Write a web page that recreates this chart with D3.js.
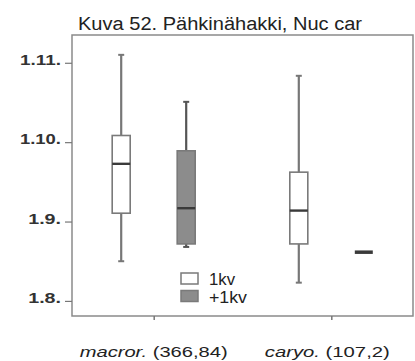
<!DOCTYPE html>
<html>
<head>
<meta charset="utf-8">
<script src="https://cdn.jsdelivr.net/npm/d3@7"></script>
<style>
  html, body { margin: 0; padding: 0; background: #fff; }
  svg { display: block; font-family: "Liberation Sans", Arial, sans-serif; }
</style>
</head>
<body>
<svg id="chart" width="415" height="361"></svg>
<script>
// Date axis: 0 = 1.8., 1 = 1.9., 2 = 1.10., 3 = 1.11. (months from 1 August)
const tickValues = [0, 1, 2, 3];
const tickLabels = ["1.8.", "1.9.", "1.10.", "1.11."];

const categories = ["macror.", "caryo."];
const categoryCounts = ["(366,84)", "(107,2)"];
const groups = ["1kv", "+1kv"];

// Box statistics per category, in the order of `groups`
const whiskerLow  = [[0.50, 0.68], [0.23, 0.614]];
const quartile1   = [[1.105, 0.718], [0.718, 0.614]];
const medians     = [[1.727, 1.168], [1.138, 0.614]];
const quartile3   = [[2.084, 1.891], [1.622, 0.614]];
const whiskerHigh = [[3.10, 2.508], [2.836, 0.614]];

const svg = d3.select("#chart");
const frame = { left: 72, right: 413, top: 35, bottom: 316 };

const y = d3.scaleLinear().domain([-0.19, 3.35]).range([frame.bottom, frame.top]);
const x = d3.scalePoint().domain(categories).range([frame.left, frame.right]).padding(0.46);
const sub = d3.scalePoint().domain(groups).range([-32.5, 32.5]);
const boxW = 18;

const fills = { "1kv": "#ffffff", "+1kv": "#8c8c8c" };
const whiskerColor = { "1kv": "#777777", "+1kv": "#555555" };

// Title
svg.append("text")
  .attr("x", 78).attr("y", 30)
  .attr("font-size", 18)
  .attr("fill", "#222")
  .attr("textLength", 284)
  .attr("lengthAdjust", "spacingAndGlyphs")
  .text("Kuva 52. Pähkinähakki, Nuc car");

// Plot frame
svg.append("rect")
  .attr("x", frame.left).attr("y", frame.top)
  .attr("width", frame.right - frame.left)
  .attr("height", frame.bottom - frame.top)
  .attr("fill", "none")
  .attr("stroke", "#8a8a8a")
  .attr("stroke-width", 1.5);

// Y axis
const yAxis = d3.axisLeft(y)
  .tickValues(tickValues)
  .tickFormat((d, i) => tickLabels[i])
  .tickSize(7)
  .tickPadding(4);
const yg = svg.append("g").attr("transform", `translate(${frame.left},0)`).call(yAxis);
yg.select(".domain").remove();
yg.selectAll(".tick line").attr("stroke", "#777").attr("stroke-width", 1.2);
yg.selectAll(".tick text")
  .attr("font-size", 15)
  .attr("font-weight", "bold")
  .attr("fill", "#333")
  .attr("dy", "0.1em")
  .attr("font-family", "'Liberation Sans', Arial, sans-serif")
  .each(function() {
    const t = d3.select(this);
    t.attr("textLength", t.text().length * 8.2)
     .attr("lengthAdjust", "spacingAndGlyphs");
  });

// X axis
const xAxis = d3.axisBottom(x).tickSize(4).tickFormat("");
const xg = svg.append("g").attr("transform", `translate(0,${frame.bottom})`).call(xAxis);
xg.select(".domain").remove();
xg.selectAll(".tick line").attr("stroke", "#777").attr("stroke-width", 1.5);

// Category labels
const labelWidths = [148, 125];
categories.forEach((c, i) => {
  const t = svg.append("text")
    .attr("x", x(c) + (i === 0 ? 0 : -4))
    .attr("y", 357)
    .attr("text-anchor", "middle")
    .attr("font-size", 15)
    .attr("fill", "#222")
    .attr("textLength", labelWidths[i])
    .attr("lengthAdjust", "spacingAndGlyphs");
  t.append("tspan").attr("font-style", "italic").text(c);
  t.append("tspan").text(" " + categoryCounts[i]);
});

// Boxes
categories.forEach((c, ci) => {
  groups.forEach((g, gi) => {
    const cx = x(c) + sub(g);
    const gEl = svg.append("g");
    const lo = whiskerLow[ci][gi], q1 = quartile1[ci][gi], md = medians[ci][gi],
          q3 = quartile3[ci][gi], hi = whiskerHigh[ci][gi];
    const wc = whiskerColor[g];
    if (hi > q3) {
      gEl.append("line").attr("x1", cx).attr("x2", cx).attr("y1", y(hi)).attr("y2", y(q3))
        .attr("stroke", wc).attr("stroke-width", 2.2);
      gEl.append("line").attr("x1", cx - 3).attr("x2", cx + 3).attr("y1", y(hi)).attr("y2", y(hi))
        .attr("stroke", wc).attr("stroke-width", 2);
    }
    if (lo < q1) {
      gEl.append("line").attr("x1", cx).attr("x2", cx).attr("y1", y(q1)).attr("y2", y(lo))
        .attr("stroke", wc).attr("stroke-width", 2.2);
      gEl.append("line").attr("x1", cx - 3).attr("x2", cx + 3).attr("y1", y(lo)).attr("y2", y(lo))
        .attr("stroke", wc).attr("stroke-width", 2);
    }
    if (q3 > q1) {
      gEl.append("rect")
        .attr("x", cx - boxW / 2).attr("y", y(q3))
        .attr("width", boxW).attr("height", y(q1) - y(q3))
        .attr("fill", fills[g])
        .attr("stroke", "#7a7a7a").attr("stroke-width", 1.6);
    }
    gEl.append("line")
      .attr("x1", cx - boxW / 2).attr("x2", cx + boxW / 2)
      .attr("y1", y(md)).attr("y2", y(md))
      .attr("stroke", "#3a3a3a")
      .attr("stroke-width", q3 > q1 ? 2.4 : 3.5);
  });
});

// Legend
const legend = svg.append("g");
const legendWidths = [26, 38];
groups.forEach((g, i) => {
  const ly = 273 + i * 17.5;
  legend.append("rect")
    .attr("x", 181).attr("y", ly).attr("width", 17).attr("height", 11)
    .attr("fill", fills[g]).attr("stroke", "#7a7a7a").attr("stroke-width", 1.5);
  legend.append("text")
    .attr("x", 209).attr("y", ly + 12)
    .attr("font-size", 16)
    .attr("fill", "#222")
    .attr("textLength", legendWidths[i])
    .attr("lengthAdjust", "spacingAndGlyphs")
    .text(g);
});
</script>
</body>
</html>
